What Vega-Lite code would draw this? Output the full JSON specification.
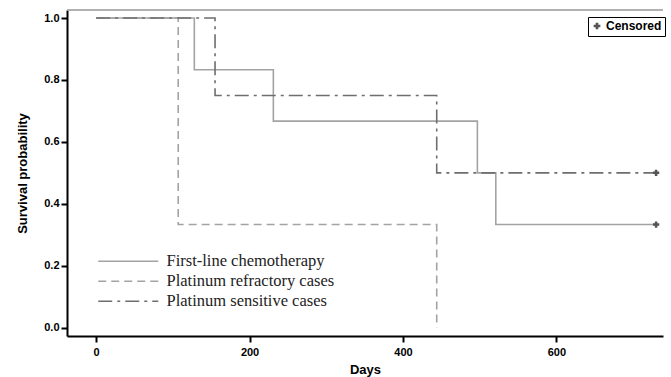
{
  "$schema": "https://vega.github.io/schema/vega-lite/v6.json",
  "width": 596,
  "height": 326,
  "autosize": {"type": "none"},
  "padding": {"left": 67, "top": 10, "right": 8, "bottom": 41},
  "background": "white",
  "config": {
    "view": {"stroke": null},
    "axis": {
      "grid": false,
      "domainColor": "#000",
      "domainWidth": 2,
      "tickColor": "#000",
      "tickWidth": 2,
      "tickSize": 6,
      "labelFont": "Liberation Sans",
      "labelFontWeight": "bold",
      "labelFontSize": 11,
      "labelColor": "#000",
      "titleFont": "Liberation Sans",
      "titleFontWeight": "bold",
      "titleFontSize": 13,
      "titleColor": "#000"
    }
  },
  "datasets": {
    "curves": [
      {"group": "First-line chemotherapy", "days": 0, "surv": 1.0},
      {"group": "First-line chemotherapy", "days": 128, "surv": 0.833},
      {"group": "First-line chemotherapy", "days": 231, "surv": 0.667},
      {"group": "First-line chemotherapy", "days": 497, "surv": 0.5},
      {"group": "First-line chemotherapy", "days": 521, "surv": 0.333},
      {"group": "First-line chemotherapy", "days": 730, "surv": 0.333},
      {"group": "Platinum refractory cases", "days": 0, "surv": 1.0},
      {"group": "Platinum refractory cases", "days": 107, "surv": 0.333},
      {"group": "Platinum refractory cases", "days": 444, "surv": 0.333},
      {"group": "Platinum refractory cases", "days": 444, "surv": 0.0},
      {"group": "Platinum sensitive cases", "days": 0, "surv": 1.0},
      {"group": "Platinum sensitive cases", "days": 155, "surv": 0.75},
      {"group": "Platinum sensitive cases", "days": 444, "surv": 0.5},
      {"group": "Platinum sensitive cases", "days": 730, "surv": 0.5}
    ],
    "censored": [
      {"group": "First-line chemotherapy", "days": 730, "surv": 0.333, "kind": "Censored"},
      {"group": "Platinum sensitive cases", "days": 730, "surv": 0.5, "kind": "Censored"}
    ],
    "frame": [{"top": 1.026}]
  },
  "layer": [
    {
      "data": {"name": "frame"},
      "mark": {"type": "rule", "color": "#999", "strokeWidth": 1.5},
      "encoding": {
        "y": {"field": "top", "type": "quantitative"}
      }
    },
    {
      "data": {"name": "curves"},
      "mark": {"type": "line", "interpolate": "step-after", "strokeWidth": 1.6},
      "encoding": {
        "x": {
          "field": "days", "type": "quantitative",
          "scale": {"domain": [-38, 739], "nice": false, "zero": false},
          "axis": {"values": [0, 200, 400, 600], "title": "Days", "titlePadding": 6, "labelPadding": 4}
        },
        "y": {
          "field": "surv", "type": "quantitative",
          "scale": {"domain": [-0.027, 1.026], "nice": false, "zero": false},
          "axis": {"values": [0, 0.2, 0.4, 0.6, 0.8, 1.0], "format": ".1f", "title": "Survival probability", "titlePadding": 14}
        },
        "color": {
          "field": "group", "type": "nominal",
          "scale": {"domain": ["First-line chemotherapy", "Platinum refractory cases", "Platinum sensitive cases"], "range": ["#a3a3a3", "#a3a3a3", "#6e6e6e"]},
          "legend": {
            "title": null,
            "orient": "none",
            "legendX": 23,
            "legendY": 243,
            "symbolType": "M0,0H10",
            "symbolSize": 144,
            "symbolStrokeWidth": 1.6,
            "labelFont": "Liberation Serif",
            "labelFontSize": 16.5,
            "labelColor": "#222",
            "labelOffset": 60,
            "rowPadding": 3,
            "labelLimit": 400
          }
        },
        "strokeDash": {
          "field": "group", "type": "nominal",
          "scale": {"domain": ["First-line chemotherapy", "Platinum refractory cases", "Platinum sensitive cases"], "range": [[1, 0], [8, 5], [14, 5, 3, 5]]},
          "legend": {
            "title": null,
            "orient": "none",
            "legendX": 23,
            "legendY": 243,
            "symbolType": "M0,0H10",
            "symbolSize": 144,
            "symbolStrokeWidth": 1.6,
            "labelFont": "Liberation Serif",
            "labelFontSize": 16.5,
            "labelColor": "#222",
            "labelOffset": 60,
            "rowPadding": 3,
            "labelLimit": 400
          }
        }
      }
    },
    {
      "data": {"name": "censored"},
      "mark": {"type": "point", "filled": true, "size": 40, "color": "#555", "opacity": 1},
      "encoding": {
        "x": {"field": "days", "type": "quantitative"},
        "y": {"field": "surv", "type": "quantitative"},
        "shape": {
          "field": "kind", "type": "nominal",
          "scale": {"domain": ["Censored"], "range": ["cross"]},
          "legend": {
            "title": null,
            "orient": "none",
            "legendX": 521,
            "legendY": 7,
            "strokeColor": "#000",
            "padding": 3,
            "symbolFillColor": "#000",
            "symbolStrokeColor": "#000",
            "symbolSize": 45,
            "labelFont": "Liberation Sans",
            "labelFontWeight": "bold",
            "labelFontSize": 12,
            "labelColor": "#000",
            "labelOffset": 3
          }
        }
      }
    }
  ]
}
